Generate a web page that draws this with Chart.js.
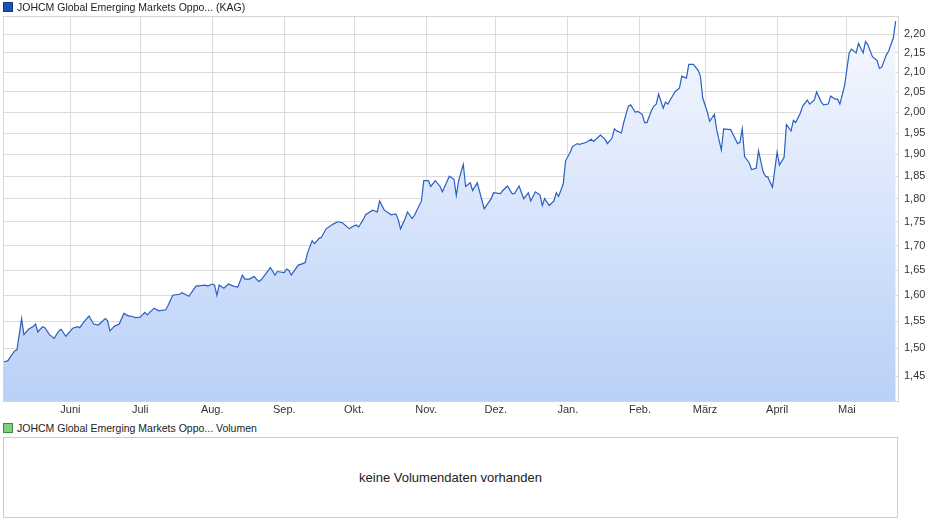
<!DOCTYPE html>
<html>
<head>
<meta charset="utf-8">
<script src="https://cdn.jsdelivr.net/npm/chart.js@4/dist/chart.umd.min.js"></script>
<style>
  body { margin: 0; background: #fff; font-family: "Liberation Sans", Arial, sans-serif; }
  #wrap { position: relative; width: 940px; height: 526px; }
  .leg { position: absolute; left: 3px; font-size: 10.5px; color: #222; white-space: nowrap; }
  .sq { display: inline-block; width: 8px; height: 8px; margin-right: 4px; vertical-align: -1px; }
  #chartbox { position: absolute; left: 0; top: 0; width: 940px; height: 416px; }
  #vol { position: absolute; left: 3px; top: 437px; width: 893px; height: 79px; border: 1px solid #ccc;
         font-size: 13px; color: #222; text-align: center; line-height: 79px; }
</style>
</head>
<body>
<div id="wrap">
  <div id="chartbox"><canvas id="c"></canvas></div>
  <div class="leg" style="top:1px"><span class="sq" style="background:#1f4fb8;border:1px solid #123a8a"></span>JOHCM Global Emerging Markets Oppo... (KAG)</div>
  <div class="leg" style="top:422px"><span class="sq" style="background:#7ed07e;border:1px solid #3a8a3a"></span>JOHCM Global Emerging Markets Oppo... Volumen</div>
  <div id="vol">keine Volumendaten vorhanden</div>
</div>
<script>
// day offsets from start (early May) and fund price
const days = [0,2,5,6,8,9,11,13,14,15,17,18,20,22,24,25,27,28,30,32,33,35,37,39,41,44,45,46,48,50,
  52,54,55,57,59,61,62,65,67,70,71,73,76,77,80,83,87,88,90,91,92,93,95,97,99,101,103,104,106,108,
  110,111,115,117,118,121,122,123,124,127,129,130,131,133,134,136,137,139,142,144,146,149,150,152,153,155,156,159,161,162,
  164,167,169,170,171,173,174,176,177,180,181,183,184,186,188,189,191,192,194,195,196,198,199,201,202,204,207,210,211,214,
  215,217,219,220,222,224,226,227,229,231,232,233,235,237,238,239,241,242,244,245,247,248,251,253,254,256,257,259,260,262,
  263,264,266,267,269,270,272,273,275,276,277,279,280,281,282,284,285,286,288,289,290,291,292,294,295,297,299,300,301,303,
  304,306,307,309,310,313,314,316,317,318,319,321,322,324,325,327,328,329,331,333,334,336,337,339,340,341,343,344,346,347,
  349,350,352,353,355,356,358,359,360,362,364,365,367,368,370,371,372,374,376,377,378,380,381,383,384];
const prices = [1.475,1.477,1.495,1.497,1.555,1.525,1.535,1.54,1.545,1.53,1.54,1.538,1.525,1.518,1.532,1.535,1.522,1.527,1.537,1.54,1.538,1.55,1.56,1.545,1.543,1.555,1.551,1.532,1.541,1.545,
  1.565,1.56,1.56,1.557,1.558,1.567,1.562,1.575,1.57,1.572,1.58,1.60,1.602,1.605,1.598,1.618,1.62,1.618,1.622,1.62,1.60,1.62,1.614,1.622,1.618,1.616,1.64,1.632,1.632,1.637,
  1.627,1.63,1.655,1.64,1.647,1.645,1.652,1.649,1.64,1.66,1.663,1.665,1.685,1.71,1.704,1.715,1.717,1.735,1.745,1.75,1.748,1.735,1.739,1.743,1.739,1.755,1.765,1.775,1.771,1.795,
  1.775,1.765,1.767,1.755,1.735,1.757,1.771,1.757,1.764,1.795,1.84,1.84,1.827,1.84,1.827,1.815,1.838,1.85,1.843,1.807,1.84,1.877,1.827,1.835,1.818,1.835,1.778,1.80,1.813,1.811,
  1.818,1.828,1.811,1.811,1.828,1.80,1.813,1.795,1.815,1.808,1.785,1.80,1.785,1.795,1.813,1.805,1.833,1.885,1.905,1.918,1.925,1.923,1.928,1.935,1.93,1.94,1.945,1.935,1.925,1.938,
  1.96,1.955,1.95,1.975,2.015,2.018,2.00,2.002,1.995,1.975,1.975,2.005,2.015,2.02,2.045,2.01,2.025,2.02,2.04,2.05,2.055,2.06,2.09,2.085,2.12,2.12,2.105,2.09,2.035,2.00,
  1.978,1.995,1.958,1.91,1.96,1.958,1.947,1.925,1.928,1.96,1.895,1.88,1.865,1.868,1.908,1.86,1.85,1.848,1.825,1.905,1.875,1.893,1.97,1.955,1.98,1.975,1.998,2.015,2.03,2.02,
  2.03,2.05,2.025,2.018,2.02,2.04,2.032,2.032,2.02,2.065,2.15,2.16,2.15,2.175,2.15,2.18,2.172,2.14,2.13,2.11,2.113,2.145,2.155,2.19,2.235];
const monthDays = [29,59,90,121,151,182,212,243,274,302,333,363];
const monthLabels = ['Juni','Juli','Aug.','Sep.','Okt.','Nov.','Dez.','Jan.','Feb.','März','April','Mai'];
const priceTicks = [1.45,1.50,1.55,1.60,1.65,1.70,1.75,1.80,1.85,1.90,1.95,2.00,2.05,2.10,2.15,2.20];

const ctx = document.getElementById('c');
new Chart(ctx, {
  type: 'line',
  data: {
    datasets: [{
      data: days.map((d, i) => ({ x: d, y: prices[i] })),
      borderColor: '#2a5fc4',
      borderWidth: 1.2,
      pointRadius: 0,
      tension: 0,
      fill: 'start',
      backgroundColor: (c) => {
        const a = c.chart.chartArea;
        if (!a) return '#dbe6fb';
        const g = c.chart.ctx.createLinearGradient(0, a.top, 0, a.bottom);
        g.addColorStop(0, '#f7f9ff');
        g.addColorStop(1, '#b9d0f7');
        return g;
      }
    }]
  },
  options: {
    responsive: true,
    maintainAspectRatio: false,
    animation: false,
    layout: { padding: { left: 3, top: 16, right: 0, bottom: 0 } },
    plugins: { legend: { display: false }, tooltip: { enabled: false } },
    scales: {
      x: {
        type: 'linear', min: 0, max: 385,
        afterBuildTicks: (s) => { s.ticks = monthDays.map(v => ({ value: v })); },
        afterFit: (s) => { s.height = 15; },
        ticks: {
          autoSkip: false, maxRotation: 0, padding: 2,
          color: '#333', font: { family: 'Liberation Sans', size: 11 },
          callback: (v) => monthLabels[monthDays.indexOf(v)]
        },
        grid: { color: '#dcdcdc', drawTicks: false },
        border: { color: '#cfcfcf' }
      },
      y: {
        type: 'logarithmic', position: 'right', min: 1.4065, max: 2.249,
        afterBuildTicks: (s) => { s.ticks = priceTicks.map(v => ({ value: v })); },
        afterFit: (s) => { s.width = 42; },
        ticks: {
          color: '#333', font: { family: 'Liberation Sans', size: 11 }, padding: 6,
          callback: (v) => v.toFixed(2).replace('.', ',')
        },
        grid: { color: '#dcdcdc', drawTicks: false },
        border: { color: '#cfcfcf' }
      }
    }
  },
  plugins: [{
    id: 'topBorder',
    afterDraw(chart) {
      const { ctx: g, chartArea: a } = chart;
      g.save();
      g.strokeStyle = '#d5d5d5';
      g.strokeRect(a.left + 0.5, a.top + 0.5, a.right - a.left, a.bottom - a.top);
      g.restore();
    }
  }]
});
</script>
</body>
</html>
